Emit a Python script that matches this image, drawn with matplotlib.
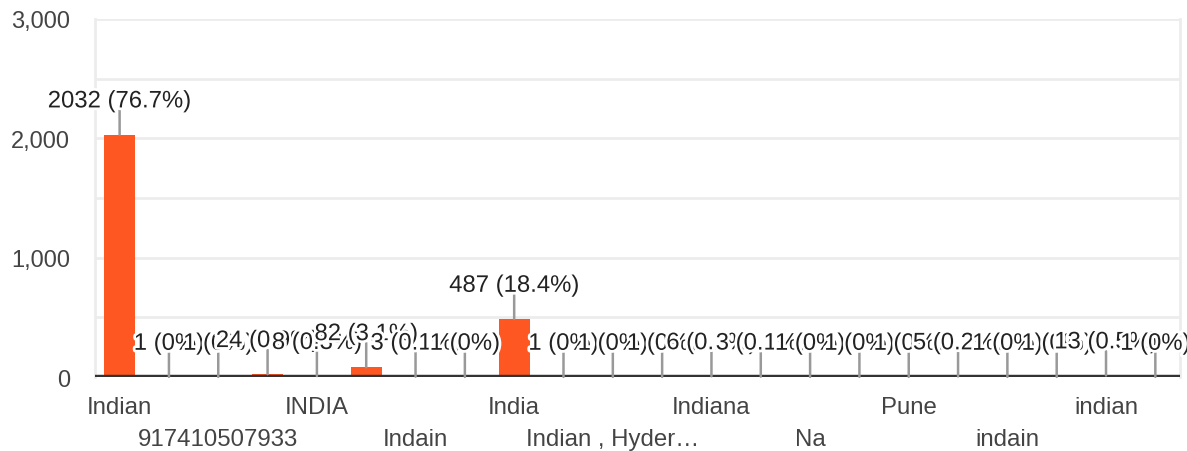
import matplotlib
matplotlib.use("Agg")
import matplotlib.pyplot as plt
import matplotlib.patheffects as pe

plt.rcParams['font.family'] = ['Liberation Sans', 'DejaVu Sans']

# answers to the question, in the order the form shows them
counts = [2032, 1, 1, 24, 8, 82, 3, 1, 487, 1, 1,
          1, 6, 3, 1, 1, 1, 5, 1, 1, 13, 1]
total_responses = 2649

# only every second category gets a visible label (two staggered rows)
shown_labels = ["Indian", "917410507933", "INDIA", "Indain", "India",
                "Indian , Hyder\u2026", "Indiana", "Na", "Pune", "indain", "indian"]

y_ticks = [0, 1000, 2000, 3000]
y_tick_labels = ["0", "1,000", "2,000", "3,000"]


def pct_label(n):
    p = round(n / total_responses * 100, 1)
    if p == int(p):
        txt = f"{int(p)}%"
    else:
        txt = f"{p}%"
    return f"{n} ({txt})"


fig = plt.figure(figsize=(11.87, 4.52), dpi=100)
ax = fig.add_axes([0.080, 0.1637, 0.9141, 0.7921])

x = list(range(len(counts)))
ax.bar(x, counts, width=0.63, color='#ff5722', zorder=3)

ax.set_xlim(-0.5, len(counts) - 0.5)
ax.set_ylim(0, 3000)

# light gridlines every 500
for g in range(500, 3001, 500):
    ax.axhline(g, color='#ececec', lw=2.0, zorder=0)
ax.axhline(0, color='#333333', lw=3.2, zorder=5)

for side in ['top', 'bottom']:
    ax.spines[side].set_visible(False)
for side in ['left', 'right']:
    ax.spines[side].set_color('#ececec')
    ax.spines[side].set_linewidth(2.0)

ax.set_yticks(y_ticks)
ax.set_yticklabels(y_tick_labels)
ax.tick_params(axis='y', length=0, pad=18, labelsize=17, labelcolor='#444444')
ax.set_xticks([])

# annotation stems + value labels (later ones drawn over earlier ones)
for i, n in enumerate(counts):
    ax.annotate('', xy=(i, n), xytext=(0, 17.5), textcoords='offset points',
                arrowprops=dict(arrowstyle='-', color='#999999', lw=1.8,
                                shrinkA=0, shrinkB=0), zorder=6 + i)
    t = ax.annotate(pct_label(n), xy=(i, n), xytext=(0, 19.5), textcoords='offset points',
                    ha='center', va='baseline', fontsize=17.2, color='#222222',
                    zorder=6 + i, annotation_clip=False)
    t.set_path_effects([pe.withStroke(linewidth=4, foreground='white')])

# staggered category labels
for k, lab in enumerate(shown_labels):
    off = -21.3 if k % 2 == 0 else -44.3
    ax.annotate(lab, xy=(2 * k, 0), xycoords=('data', 'axes fraction'),
                xytext=(0, off), textcoords='offset points',
                ha='center', va='center', fontsize=17.3, color='#444444',
                annotation_clip=False)

fig.savefig('out.png', dpi=100)
